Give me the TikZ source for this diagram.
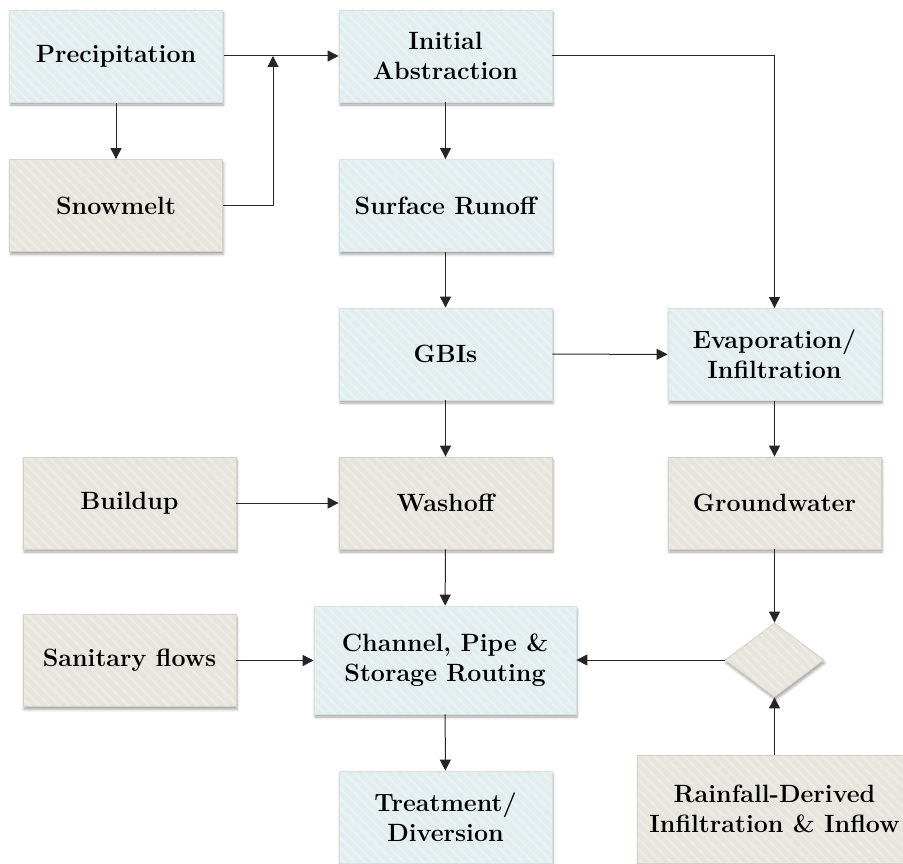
\documentclass[tikz,border=0pt]{standalone}
\usetikzlibrary{shapes.geometric,arrows.meta,patterns.meta,shadows.blur}

\definecolor{bluefill}{HTML}{E2EDEF}
\definecolor{bluestripe}{HTML}{E9F1F2}
\definecolor{blueline}{HTML}{D5E2E4}
\definecolor{sandfill}{HTML}{E7E4DD}
\definecolor{sandstripe}{HTML}{ECEAE4}
\definecolor{sandline}{HTML}{D6D1C5}

\tikzset{
  box/.style={
    blur shadow={shadow xshift=1pt, shadow yshift=-3pt,
                 shadow blur radius=2.5pt, shadow opacity=35},
    line width=0.8pt, minimum width=213pt, minimum height=92pt,
    inner sep=4pt, align=center,
    font=\fontsize{25}{30}\selectfont\bfseries},
  water/.style={box, preaction={fill=bluefill},
    pattern={Lines[angle=-45,distance=7pt,line width=2.5pt]},
    pattern color=bluestripe, draw=blueline},
  load/.style={box, preaction={fill=sandfill},
    pattern={Lines[angle=-45,distance=7pt,line width=2.5pt]},
    pattern color=sandstripe, draw=sandline},
  wide/.style={minimum width=262pt, minimum height=108pt},
  junction/.style={diamond, aspect=1.34, minimum width=99pt,
    minimum height=74pt, inner sep=0pt, font={}},
  flow/.style={-{Triangle[length=11pt,width=11pt]}, line width=1pt,
    draw=black!85}
}

\begin{document}
\begin{tikzpicture}[x=1pt,y=-1pt]
  \useasboundingbox (0,0) rectangle (903,864);
  \clip (0,0) rectangle (903,864);

  % upper chain
  \node[water] (prec)  at (116,56)     {Precipitation};
  \node[load]  (snow)  at (116,205.5)  {Snowmelt};
  \node[water] (init)  at (445.5,56)   {Initial\\Abstraction};
  \node[water] (surf)  at (445.5,205.5) {Surface Runoff};
  \node[water] (gbi)   at (445.5,354)  {GBIs};
  \node[water] (evap)  at (774.5,354.5) {Evaporation/\\Infiltration};

  % loads and groundwater
  \node[load]  (build) at (129.5,503)  {Buildup};
  \node[load]  (wash)  at (445.5,503)  {Washoff};
  \node[load]  (gw)    at (774.5,503)  {Groundwater};

  % routing
  \node[load]  (sanit) at (129.5,660.5) {Sanitary flows};
  \node[water,wide] (chan) at (445,660) {Channel, Pipe \&\\Storage Routing};
  \node[load,junction] (mix) at (774.5,660) {};
  \node[water] (treat) at (445.5,817)  {Treatment/\\Diversion};
  \node[load,wide,minimum width=274pt] (rdii) at (774.5,809)
       {Rainfall-Derived\\Infiltration \& Inflow};

  \coordinate (merge) at (273,56);

  % connectors
  \draw[flow] (prec) -- (snow);
  \draw[flow] (prec) -- (init);
  \draw[flow] (snow.east) -| (merge);
  \draw[flow] (init) -- (surf);
  \draw[flow] (init.east) -| (evap.north);
  \draw[flow] (surf) -- (gbi);
  \draw[flow] (gbi) -- (evap);
  \draw[flow] (gbi) -- (wash);
  \draw[flow] (evap) -- (gw);
  \draw[flow] (build) -- (wash);
  \draw[flow] (wash) -- (chan);
  \draw[flow] (gw) -- (mix.north);
  \draw[flow] (mix.west) -- (chan.east);
  \draw[flow] (sanit.east) -- (chan.west |- sanit.east);
  \draw[flow] (chan) -- (treat);
  \draw[flow] (rdii.north) -- (mix.south);
\end{tikzpicture}
\end{document}
